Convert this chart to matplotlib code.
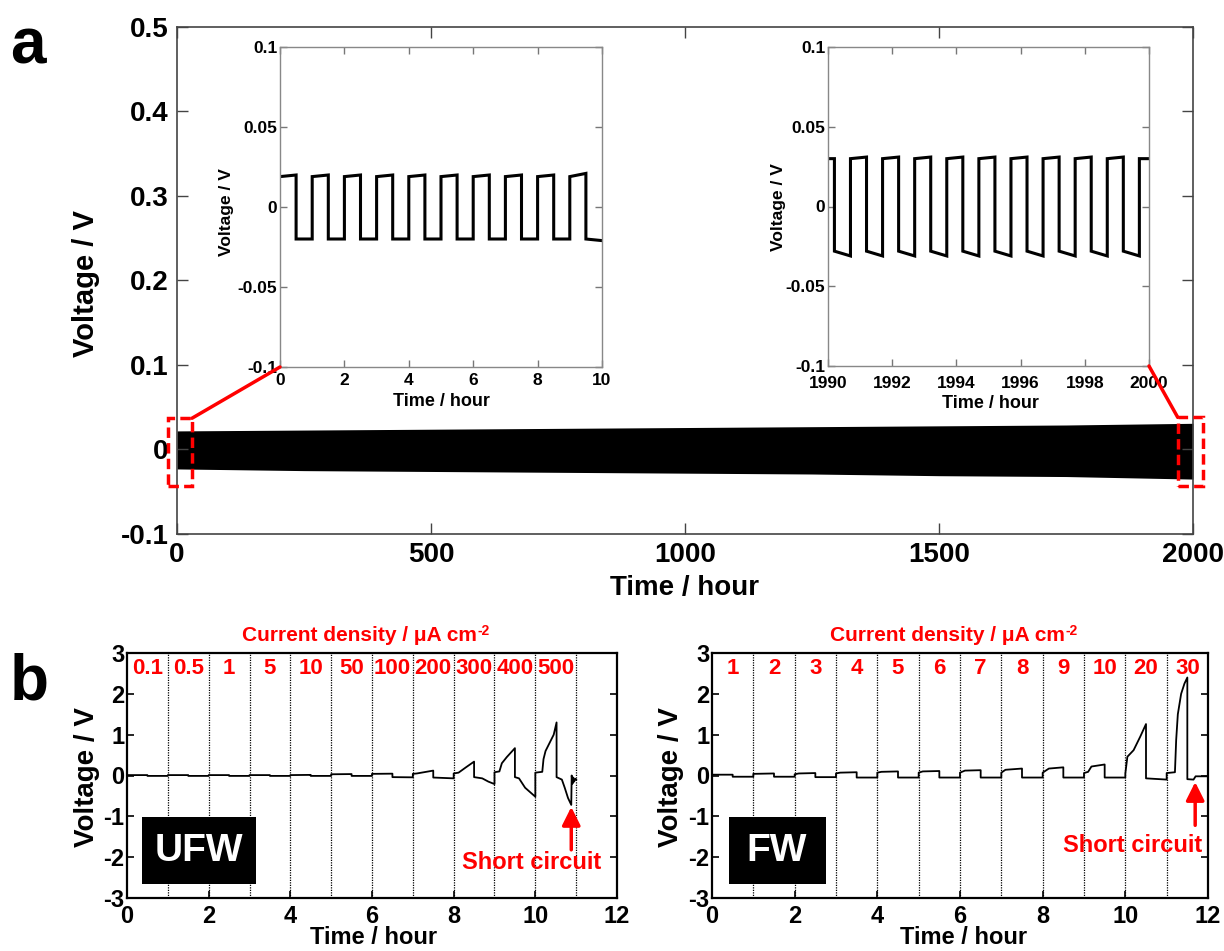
import matplotlib
matplotlib.use('Agg')
import matplotlib.pyplot as plt
from matplotlib.patches import Rectangle, ConnectionPatch, FancyArrowPatch

plt.rcParams['font.family'] = ['Liberation Sans', 'DejaVu Sans']
plt.rcParams['font.weight'] = 'bold'
plt.rcParams['axes.unicode_minus'] = False

# ---------------- data ----------------
# panel a, main: envelope of the dense square-wave trace
main_t = [0, 250, 500, 750, 1000, 1250, 1500, 1750, 2000]
main_upper = [0.022, 0.023, 0.024, 0.025, 0.026, 0.027, 0.028, 0.029, 0.031]
main_lower = [-0.023, -0.025, -0.026, -0.027, -0.028, -0.029, -0.031, -0.032, -0.035]
main_xticks = [0, 500, 1000, 1500, 2000]
main_yticks = [-0.1, 0, 0.1, 0.2, 0.3, 0.4, 0.5]
main_yticklabels = ['-0.1', '0', '0.1', '0.2', '0.3', '0.4', '0.5']

# inset 1 (first 10 h): half-cycle boundaries and voltages at start/end of each half
in1_edges = [0.0, 0.5, 1.0, 1.5, 2.0, 2.5, 3.0, 3.5, 4.0, 4.5, 5.0,
             5.5, 6.0, 6.5, 7.0, 7.5, 8.0, 8.5, 9.0, 9.5, 10.0]
in1_v_start = [0.019, -0.020, 0.019, -0.020, 0.019, -0.020, 0.019, -0.020, 0.019, -0.020,
               0.019, -0.020, 0.019, -0.020, 0.019, -0.020, 0.019, -0.020, 0.019, -0.020]
in1_v_end = [0.020, -0.020, 0.020, -0.020, 0.020, -0.020, 0.020, -0.020, 0.020, -0.020,
             0.020, -0.020, 0.020, -0.020, 0.020, -0.020, 0.020, -0.020, 0.021, -0.021]
# inset 2 (1990-2000 h)
in2_edges = [1990.0, 1990.2, 1990.7, 1991.2, 1991.7, 1992.2, 1992.7, 1993.2, 1993.7,
             1994.2, 1994.7, 1995.2, 1995.7, 1996.2, 1996.7, 1997.2, 1997.7, 1998.2,
             1998.7, 1999.2, 1999.7, 2000.0]
in2_v_start = [0.030, -0.028, 0.030, -0.028, 0.030, -0.028, 0.030, -0.028, 0.030, -0.028,
               0.030, -0.028, 0.030, -0.028, 0.030, -0.028, 0.030, -0.028, 0.030, -0.028, 0.030]
in2_v_end = [0.030, -0.031, 0.031, -0.031, 0.031, -0.031, 0.031, -0.031, 0.031, -0.031,
             0.031, -0.031, 0.031, -0.031, 0.031, -0.031, 0.031, -0.031, 0.031, -0.031, 0.030]
in_yticks = [-0.1, -0.05, 0, 0.05, 0.1]
in_yticklabels = ['-0.1', '-0.05', '0', '0.05', '0.1']
in1_xticks = [0, 2, 4, 6, 8, 10]
in2_xticks = [1990, 1992, 1994, 1996, 1998, 2000]

# panel b
ufw_labels = ['0.1', '0.5', '1', '5', '10', '50', '100', '200', '300', '400', '500']
fw_labels = ['1', '2', '3', '4', '5', '6', '7', '8', '9', '10', '20', '30']
ufw_t = [0.0, 0.5, 0.5, 1.0, 1.0, 1.5, 1.5, 2.0, 2.0, 2.5, 2.5, 3.0, 3.0, 3.5, 3.5, 4.0,
         4.0, 4.5, 4.5, 5.0, 5.0, 5.5, 5.5, 6.0, 6.0, 6.5, 6.5, 7.0,
         7.0, 7.1, 7.5, 7.5, 8.0,
         8.0, 8.12, 8.3, 8.5, 8.5, 8.7, 8.85, 9.0,
         9.0, 9.12, 9.18, 9.3, 9.5, 9.5, 9.6, 9.75, 10.0,
         10.0, 10.17, 10.2, 10.25, 10.35, 10.45, 10.52, 10.52, 10.65, 10.72, 10.8, 10.88,
         10.89, 10.91, 10.93, 10.95, 10.98, 11.0]
ufw_v = [0.01, 0.01, -0.01, -0.01, 0.01, 0.01, -0.01, -0.01, 0.01, 0.01, -0.01, -0.01,
         0.01, 0.01, -0.01, -0.01, 0.01, 0.015, -0.01, -0.01, 0.03, 0.035, -0.01, -0.01,
         0.04, 0.045, -0.04, -0.045,
         0.04, 0.05, 0.12, -0.05, -0.07,
         0.05, 0.07, 0.2, 0.34, -0.04, -0.07, -0.15, -0.21,
         0.08, 0.1, 0.3, 0.45, 0.67, -0.04, -0.07, -0.3, -0.52,
         0.07, 0.09, 0.4, 0.6, 0.8, 1.0, 1.3, -0.04, -0.1, -0.3, -0.55, -0.72,
         0.0, -0.2, -0.05, -0.15, -0.08, -0.1]
fw_t = [0.0, 0.5, 0.5, 1.0, 1.0, 1.5, 1.5, 2.0,
        2.0, 2.1, 2.5, 2.5, 3.0, 3.0, 3.1, 3.5, 3.5, 4.0,
        4.0, 4.1, 4.5, 4.5, 5.0, 5.0, 5.1, 5.5, 5.5, 6.0,
        6.0, 6.12, 6.5, 6.5, 7.0, 7.0, 7.1, 7.5, 7.5, 8.0,
        8.0, 8.15, 8.5, 8.5, 9.0, 9.0, 9.1, 9.18, 9.5, 9.5, 10.0,
        10.0, 10.05, 10.2, 10.36, 10.5, 10.5, 11.0,
        11.0, 11.2, 11.23, 11.27, 11.35, 11.43, 11.5, 11.5, 11.65, 11.7, 12.0]
fw_v = [0.02, 0.02, -0.03, -0.03, 0.04, 0.05, -0.03, -0.03,
        0.03, 0.05, 0.06, -0.04, -0.04, 0.05, 0.07, 0.08, -0.05, -0.05,
        0.07, 0.09, 0.1, -0.05, -0.05, 0.07, 0.1, 0.11, -0.05, -0.05,
        0.07, 0.12, 0.13, -0.05, -0.05, 0.07, 0.14, 0.17, -0.05, -0.05,
        0.07, 0.17, 0.2, -0.05, -0.05, 0.06, 0.09, 0.22, 0.27, -0.05, -0.05,
        0.05, 0.46, 0.62, 0.95, 1.26, -0.07, -0.1,
        0.06, 0.08, 0.87, 1.5, 2.0, 2.25, 2.4, -0.09, -0.1, -0.02, -0.02]
b_xticks = [0, 2, 4, 6, 8, 10, 12]
b_yticks = [-3, -2, -1, 0, 1, 2, 3]

# ---------------- figure ----------------
W, H = 1224, 951
fig = plt.figure(figsize=(W / 100, H / 100), dpi=100)


def px_axes(x0, y0, x1, y1):
    return fig.add_axes([x0 / W, 1 - y1 / H, (x1 - x0) / W, (y1 - y0) / H])


def ftext(x, y, s, **kw):
    return fig.text(x / W, 1 - y / H, s, ha=kw.pop('ha', 'center'), va=kw.pop('va', 'center'), **kw)


def seg_line(edges, vs, ve):
    t, v = [], []
    for i in range(len(vs)):
        t += [edges[i], edges[i + 1]]
        v += [vs[i], ve[i]]
    return t, v


# main axes
ax = px_axes(177, 27, 1193, 534)
ax.fill_between(main_t, main_lower, main_upper, color='k', lw=0)
ax.set_xlim(0, 2000)
ax.set_ylim(-0.1, 0.5)
ax.set_xticks(main_xticks)
ax.set_xticklabels([str(v) for v in main_xticks])
ax.set_yticks(main_yticks)
ax.set_yticklabels(main_yticklabels)
ax.tick_params(direction='in', length=8, width=1, labelsize=20, pad=6,
               top=True, right=True, color='#444')
for s in ax.spines.values():
    s.set_color('#444')
    s.set_linewidth(1.2)
ftext(685, 588, 'Time / hour', fontsize=20)
ftext(86, 284, 'Voltage / V', fontsize=21, rotation=90)

# red dashed boxes
box_kw = dict(fill=False, ec='red', lw=2.5, ls=(0, (3, 1.5)), clip_on=False, zorder=5)
ax.add_patch(Rectangle((-18, -0.043), 47.5, 0.080, **box_kw))
ax.add_patch(Rectangle((1970, -0.043), 50, 0.081, **box_kw))


def style_inset(a, xticks, xlim, xpad):
    a.set_xlim(*xlim)
    a.set_ylim(-0.1, 0.1)
    a.set_xticks(xticks)
    a.set_xticklabels([str(v) for v in xticks])
    a.set_yticks(in_yticks)
    a.set_yticklabels(in_yticklabels)
    a.tick_params(direction='in', length=5, width=1, labelsize=12.5,
                  top=True, right=True, color='#777')
    a.tick_params(axis='y', pad=2)
    a.tick_params(axis='x', pad=xpad)
    for s in a.spines.values():
        s.set_color('#888')
        s.set_linewidth(1.0)


ins1 = px_axes(280, 47, 602, 367)
t1, v1 = seg_line(in1_edges, in1_v_start, in1_v_end)
ins1.plot(t1, v1, color='k', lw=2.2, solid_joinstyle='miter')
style_inset(ins1, in1_xticks, (0, 10), 4)
ftext(441, 401, 'Time / hour', fontsize=13)
ftext(226, 212, 'Voltage / V', fontsize=12.5, rotation=90)

ins2 = px_axes(828, 47, 1149, 366)
t2, v2 = seg_line(in2_edges, in2_v_start, in2_v_end)
ins2.plot(t2, v2, color='k', lw=2.2, solid_joinstyle='miter')
style_inset(ins2, in2_xticks, (1990, 2000), 7)
ftext(990, 403, 'Time / hour', fontsize=13)
ftext(778, 207, 'Voltage / V', fontsize=12.5, rotation=90)

con1 = ConnectionPatch(xyA=(29.5, 0.037), coordsA=ax.transData, xyB=(0, 0),
                       coordsB=ins1.transAxes, color='red', lw=2.5, zorder=6)
con2 = ConnectionPatch(xyA=(1970, 0.038), coordsA=ax.transData, xyB=(1, 0),
                       coordsB=ins2.transAxes, color='red', lw=2.5, zorder=6)
fig.add_artist(con1)
fig.add_artist(con2)

ftext(10, 63, 'a', fontsize=46, ha='left', va='baseline')
ftext(10, 700, 'b', fontsize=46, ha='left', va='baseline')


def style_b(a, tvals, vvals, labels):
    a.plot(tvals, vvals, color='k', lw=1.3)
    for k in range(1, 12):
        a.axvline(k, color='k', ls=(0, (1, 1)), lw=0.9, zorder=1)
    a.set_xlim(0, 12)
    a.set_ylim(-3, 3)
    a.set_xticks(b_xticks)
    a.set_xticklabels([str(v) for v in b_xticks])
    a.set_yticks(b_yticks)
    a.set_yticklabels([str(v) for v in b_yticks])
    a.tick_params(axis='both', direction='in', length=5, width=1.2, labelsize=17, right=True)
    a.tick_params(axis='y', pad=2)
    a.tick_params(axis='x', pad=5)
    for s in a.spines.values():
        s.set_color('k')
        s.set_linewidth(1.6)
    for i, lab in enumerate(labels):
        a.text(i + 0.5, 2.63, lab, color='red', ha='center', va='center', fontsize=16)
    main = a.text(0.475, 1.073, 'Current density / μA cm', transform=a.transAxes,
                  color='red', ha='center', va='center', fontsize=15)
    a.annotate('-2', xy=(1, 1), xycoords=main, xytext=(0.5, 1), textcoords='offset points',
               color='red', ha='left', va='top', fontsize=10)


b1 = px_axes(127, 653, 617, 898)
style_b(b1, ufw_t, ufw_v, ufw_labels)
b2 = px_axes(712, 653, 1208, 898)
style_b(b2, fw_t, fw_v, fw_labels)

ftext(374, 938, 'Time / hour', fontsize=17)
ftext(964, 938, 'Time / hour', fontsize=17)
ftext(87, 777, 'Voltage / V', fontsize=20, rotation=90)
ftext(671, 777, 'Voltage / V', fontsize=20, rotation=90)

# sample name boxes
b1.add_patch(Rectangle(((142 - 127) / 490, (898 - 884) / 245), 114 / 490, 67 / 245,
                       transform=b1.transAxes, fc='k', ec='none', zorder=4))
b1.text((199 - 127) / 490, (898 - 851) / 245, 'UFW', transform=b1.transAxes,
        color='white', ha='center', va='center', fontsize=28, zorder=5)
b2.add_patch(Rectangle(((729 - 712) / 496, (898 - 884) / 245), 97 / 496, 67 / 245,
                       transform=b2.transAxes, fc='k', ec='none', zorder=4))
b2.text((777 - 712) / 496, (898 - 851) / 245, 'FW', transform=b2.transAxes,
        color='white', ha='center', va='center', fontsize=28, zorder=5)

# short circuit annotations
arrow_style = '-|>,head_width=5.5,head_length=11'
b1.add_patch(FancyArrowPatch((10.88, -1.82), (10.88, -0.77), arrowstyle=arrow_style,
                             mutation_scale=1, color='red', lw=2.5, shrinkA=0, shrinkB=0,
                             zorder=6))
b1.text(9.92, -2.14, 'Short circuit', color='red', ha='center', va='center', fontsize=17)
b2.add_patch(FancyArrowPatch((11.69, -1.22), (11.69, -0.16), arrowstyle=arrow_style,
                             mutation_scale=1, color='red', lw=2.5, shrinkA=0, shrinkB=0,
                             zorder=6))
b2.text(10.18, -1.72, 'Short circuit', color='red', ha='center', va='center', fontsize=17)

fig.savefig('out.png', dpi=100)
